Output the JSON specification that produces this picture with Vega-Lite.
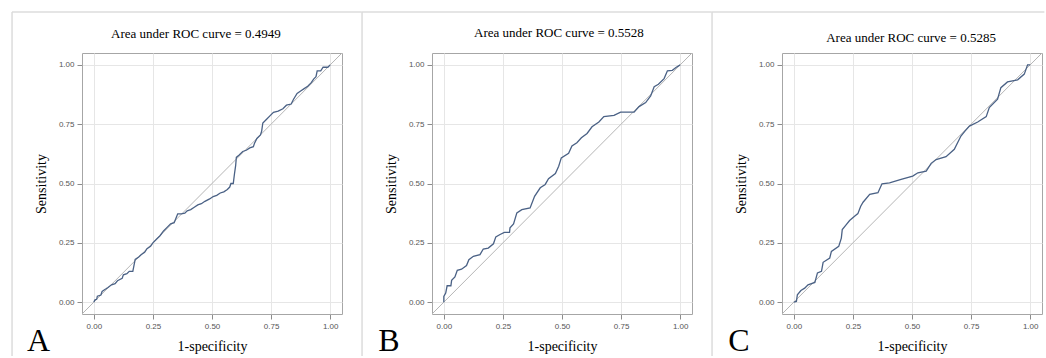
{
  "$schema": "https://vega.github.io/schema/vega-lite/v6.json",
  "background": "white",
  "padding": {"left": 10, "top": 10, "right": 0, "bottom": 0},
  "spacing": 90,
  "bounds": "flush",
  "config": {
    "view": {"stroke": "#a6a6a6", "strokeWidth": 1},
    "axis": {
      "domain": false,
      "grid": true,
      "gridColor": "#e6e6e6",
      "gridWidth": 1,
      "tickColor": "#8c8c8c",
      "tickSize": 5,
      "labelFont": "Liberation Sans",
      "labelFontSize": 8,
      "labelColor": "#555555",
      "labelPadding": 3,
      "titleFont": "Liberation Serif",
      "titleFontSize": 14,
      "titleFontWeight": "normal",
      "titleColor": "#000000",
      "format": ".2f"
    },
    "axisX": {"titlePadding": 9},
    "axisY": {"titlePadding": 10},
    "text": {"font": "Liberation Serif", "color": "#000000"}
  },
  "datasets": {
    "rocA": [
      {"fpr": 0, "tpr": 0}, {"fpr": 0.005, "tpr": 0.01}, {"fpr": 0.012, "tpr": 0.012}, {"fpr": 0.015, "tpr": 0.025},
      {"fpr": 0.03, "tpr": 0.03}, {"fpr": 0.035, "tpr": 0.045}, {"fpr": 0.05, "tpr": 0.055}, {"fpr": 0.06, "tpr": 0.062},
      {"fpr": 0.075, "tpr": 0.073}, {"fpr": 0.09, "tpr": 0.078}, {"fpr": 0.1, "tpr": 0.09}, {"fpr": 0.12, "tpr": 0.1},
      {"fpr": 0.125, "tpr": 0.115}, {"fpr": 0.14, "tpr": 0.12}, {"fpr": 0.15, "tpr": 0.13}, {"fpr": 0.165, "tpr": 0.13},
      {"fpr": 0.17, "tpr": 0.155}, {"fpr": 0.175, "tpr": 0.18}, {"fpr": 0.19, "tpr": 0.19}, {"fpr": 0.2, "tpr": 0.2},
      {"fpr": 0.215, "tpr": 0.21}, {"fpr": 0.225, "tpr": 0.225}, {"fpr": 0.24, "tpr": 0.235}, {"fpr": 0.25, "tpr": 0.25},
      {"fpr": 0.265, "tpr": 0.265}, {"fpr": 0.28, "tpr": 0.28}, {"fpr": 0.295, "tpr": 0.3}, {"fpr": 0.31, "tpr": 0.315},
      {"fpr": 0.325, "tpr": 0.33}, {"fpr": 0.34, "tpr": 0.335}, {"fpr": 0.35, "tpr": 0.36}, {"fpr": 0.355, "tpr": 0.372},
      {"fpr": 0.37, "tpr": 0.372}, {"fpr": 0.385, "tpr": 0.375}, {"fpr": 0.395, "tpr": 0.385}, {"fpr": 0.41, "tpr": 0.39},
      {"fpr": 0.425, "tpr": 0.4}, {"fpr": 0.44, "tpr": 0.41}, {"fpr": 0.455, "tpr": 0.415}, {"fpr": 0.47, "tpr": 0.425},
      {"fpr": 0.49, "tpr": 0.435}, {"fpr": 0.505, "tpr": 0.445}, {"fpr": 0.52, "tpr": 0.45}, {"fpr": 0.535, "tpr": 0.46},
      {"fpr": 0.55, "tpr": 0.465}, {"fpr": 0.565, "tpr": 0.475}, {"fpr": 0.575, "tpr": 0.485}, {"fpr": 0.58, "tpr": 0.5},
      {"fpr": 0.59, "tpr": 0.5}, {"fpr": 0.595, "tpr": 0.54}, {"fpr": 0.6, "tpr": 0.575}, {"fpr": 0.603, "tpr": 0.61},
      {"fpr": 0.615, "tpr": 0.62}, {"fpr": 0.63, "tpr": 0.635}, {"fpr": 0.645, "tpr": 0.64}, {"fpr": 0.66, "tpr": 0.65},
      {"fpr": 0.675, "tpr": 0.655}, {"fpr": 0.68, "tpr": 0.67}, {"fpr": 0.69, "tpr": 0.69}, {"fpr": 0.705, "tpr": 0.705},
      {"fpr": 0.71, "tpr": 0.72}, {"fpr": 0.715, "tpr": 0.755}, {"fpr": 0.73, "tpr": 0.77}, {"fpr": 0.745, "tpr": 0.785},
      {"fpr": 0.76, "tpr": 0.8}, {"fpr": 0.78, "tpr": 0.805}, {"fpr": 0.8, "tpr": 0.815}, {"fpr": 0.815, "tpr": 0.83},
      {"fpr": 0.835, "tpr": 0.835}, {"fpr": 0.845, "tpr": 0.855}, {"fpr": 0.86, "tpr": 0.88}, {"fpr": 0.875, "tpr": 0.89},
      {"fpr": 0.89, "tpr": 0.9}, {"fpr": 0.905, "tpr": 0.91}, {"fpr": 0.92, "tpr": 0.925}, {"fpr": 0.93, "tpr": 0.94},
      {"fpr": 0.94, "tpr": 0.95}, {"fpr": 0.945, "tpr": 0.975}, {"fpr": 0.96, "tpr": 0.975}, {"fpr": 0.97, "tpr": 0.99},
      {"fpr": 0.99, "tpr": 0.99}, {"fpr": 1, "tpr": 1}
    ],
    "rocB": [
      {"fpr": 0, "tpr": 0}, {"fpr": 0, "tpr": 0.024}, {"fpr": 0.008, "tpr": 0.038}, {"fpr": 0.014, "tpr": 0.069},
      {"fpr": 0.03, "tpr": 0.069}, {"fpr": 0.033, "tpr": 0.092}, {"fpr": 0.047, "tpr": 0.106}, {"fpr": 0.057, "tpr": 0.134},
      {"fpr": 0.075, "tpr": 0.139}, {"fpr": 0.096, "tpr": 0.154}, {"fpr": 0.106, "tpr": 0.179}, {"fpr": 0.125, "tpr": 0.193},
      {"fpr": 0.153, "tpr": 0.2}, {"fpr": 0.167, "tpr": 0.224}, {"fpr": 0.188, "tpr": 0.228}, {"fpr": 0.21, "tpr": 0.246},
      {"fpr": 0.22, "tpr": 0.275}, {"fpr": 0.238, "tpr": 0.285}, {"fpr": 0.256, "tpr": 0.294}, {"fpr": 0.278, "tpr": 0.294},
      {"fpr": 0.28, "tpr": 0.313}, {"fpr": 0.295, "tpr": 0.33}, {"fpr": 0.309, "tpr": 0.376}, {"fpr": 0.33, "tpr": 0.39},
      {"fpr": 0.365, "tpr": 0.397}, {"fpr": 0.384, "tpr": 0.446}, {"fpr": 0.408, "tpr": 0.482}, {"fpr": 0.429, "tpr": 0.496},
      {"fpr": 0.443, "tpr": 0.52}, {"fpr": 0.472, "tpr": 0.542}, {"fpr": 0.486, "tpr": 0.573}, {"fpr": 0.497, "tpr": 0.608},
      {"fpr": 0.528, "tpr": 0.627}, {"fpr": 0.542, "tpr": 0.658}, {"fpr": 0.563, "tpr": 0.672}, {"fpr": 0.582, "tpr": 0.693},
      {"fpr": 0.606, "tpr": 0.711}, {"fpr": 0.627, "tpr": 0.739}, {"fpr": 0.656, "tpr": 0.759}, {"fpr": 0.677, "tpr": 0.782},
      {"fpr": 0.72, "tpr": 0.787}, {"fpr": 0.748, "tpr": 0.801}, {"fpr": 0.805, "tpr": 0.801}, {"fpr": 0.826, "tpr": 0.824},
      {"fpr": 0.854, "tpr": 0.841}, {"fpr": 0.875, "tpr": 0.869}, {"fpr": 0.89, "tpr": 0.908}, {"fpr": 0.908, "tpr": 0.918},
      {"fpr": 0.932, "tpr": 0.942}, {"fpr": 0.946, "tpr": 0.975}, {"fpr": 0.967, "tpr": 0.977}, {"fpr": 0.982, "tpr": 0.989},
      {"fpr": 1, "tpr": 1}
    ],
    "rocC": [
      {"fpr": 0, "tpr": 0}, {"fpr": 0.011, "tpr": 0.003}, {"fpr": 0.015, "tpr": 0.031}, {"fpr": 0.03, "tpr": 0.049},
      {"fpr": 0.046, "tpr": 0.059}, {"fpr": 0.06, "tpr": 0.073}, {"fpr": 0.089, "tpr": 0.083}, {"fpr": 0.1, "tpr": 0.123},
      {"fpr": 0.117, "tpr": 0.13}, {"fpr": 0.124, "tpr": 0.168}, {"fpr": 0.152, "tpr": 0.186}, {"fpr": 0.159, "tpr": 0.214},
      {"fpr": 0.19, "tpr": 0.235}, {"fpr": 0.201, "tpr": 0.27}, {"fpr": 0.205, "tpr": 0.306}, {"fpr": 0.222, "tpr": 0.327},
      {"fpr": 0.236, "tpr": 0.344}, {"fpr": 0.257, "tpr": 0.362}, {"fpr": 0.271, "tpr": 0.373}, {"fpr": 0.283, "tpr": 0.404},
      {"fpr": 0.293, "tpr": 0.421}, {"fpr": 0.321, "tpr": 0.454}, {"fpr": 0.356, "tpr": 0.461}, {"fpr": 0.373, "tpr": 0.499},
      {"fpr": 0.405, "tpr": 0.503}, {"fpr": 0.454, "tpr": 0.517}, {"fpr": 0.503, "tpr": 0.531}, {"fpr": 0.525, "tpr": 0.545},
      {"fpr": 0.56, "tpr": 0.552}, {"fpr": 0.581, "tpr": 0.585}, {"fpr": 0.602, "tpr": 0.601}, {"fpr": 0.644, "tpr": 0.613},
      {"fpr": 0.679, "tpr": 0.644}, {"fpr": 0.707, "tpr": 0.7}, {"fpr": 0.724, "tpr": 0.721}, {"fpr": 0.743, "tpr": 0.742},
      {"fpr": 0.778, "tpr": 0.759}, {"fpr": 0.814, "tpr": 0.782}, {"fpr": 0.827, "tpr": 0.82}, {"fpr": 0.862, "tpr": 0.855},
      {"fpr": 0.876, "tpr": 0.904}, {"fpr": 0.904, "tpr": 0.928}, {"fpr": 0.947, "tpr": 0.937}, {"fpr": 0.975, "tpr": 0.961},
      {"fpr": 0.989, "tpr": 1}, {"fpr": 1, "tpr": 1}
    ]
  },
  "hconcat": [
    {
      "width": 260, "height": 261,
      "layer": [
        {"data": {"values": [{}]}, "mark": {"type": "rule", "color": "#b5b5b5", "strokeWidth": 1},
         "encoding": {"x": {"datum": -0.05, "type": "quantitative", "scale": {"domain": [-0.05, 1.05], "nice": false, "zero": false}, "axis": {"title": "1-specificity", "values": [0, 0.25, 0.5, 0.75, 1]}},
                      "x2": {"datum": 1.05},
                      "y": {"datum": -0.05, "type": "quantitative", "scale": {"domain": [-0.05, 1.05], "nice": false, "zero": false}, "axis": {"title": "Sensitivity", "values": [0, 0.25, 0.5, 0.75, 1]}},
                      "y2": {"datum": 1.05}}},
        {"data": {"name": "rocA"}, "mark": {"type": "line", "color": "#4a6185", "strokeWidth": 1.3},
         "encoding": {"x": {"field": "fpr", "type": "quantitative", "scale": {"domain": [-0.05, 1.05], "nice": false, "zero": false}, "axis": {"title": "1-specificity", "values": [0, 0.25, 0.5, 0.75, 1]}},
                      "y": {"field": "tpr", "type": "quantitative", "scale": {"domain": [-0.05, 1.05], "nice": false, "zero": false}, "axis": {"title": "Sensitivity", "values": [0, 0.25, 0.5, 0.75, 1]}}}},
        {"data": {"values": [{}]}, "mark": {"type": "rule", "color": "#dcdcdc", "strokeWidth": 1.5},
         "encoding": {"x": {"datum": -0.346, "type": "quantitative", "axis": {"title": "1-specificity", "values": [0, 0.25, 0.5, 0.75, 1]}}, "y": {"datum": -0.227, "type": "quantitative", "axis": {"title": "Sensitivity", "values": [0, 0.25, 0.5, 0.75, 1]}}, "y2": {"datum": 1.223}}},
        {"data": {"values": [{}]}, "mark": {"type": "rule", "color": "#dcdcdc", "strokeWidth": 1.5},
         "encoding": {"x": {"datum": -0.346, "type": "quantitative", "axis": {"title": "1-specificity", "values": [0, 0.25, 0.5, 0.75, 1]}}, "x2": {"datum": 1.134}, "y": {"datum": 1.223, "type": "quantitative", "axis": {"title": "Sensitivity", "values": [0, 0.25, 0.5, 0.75, 1]}}}},
        {"data": {"values": [{"t": "Area under ROC curve = 0.4949"}]}, "mark": {"type": "text", "fontSize": 13, "baseline": "alphabetic", "align": "center"},
         "encoding": {"text": {"field": "t"}, "x": {"datum": 0.432, "type": "quantitative", "axis": {"title": "1-specificity", "values": [0, 0.25, 0.5, 0.75, 1]}}, "y": {"datum": 1.113, "type": "quantitative", "axis": {"title": "Sensitivity", "values": [0, 0.25, 0.5, 0.75, 1]}}}},
        {"data": {"values": [{"panel": "A"}]}, "mark": {"type": "text", "fontSize": 32, "baseline": "alphabetic", "align": "center"},
         "encoding": {"text": {"field": "panel"}, "x": {"datum": -0.234, "type": "quantitative", "axis": {"title": "1-specificity", "values": [0, 0.25, 0.5, 0.75, 1]}}, "y": {"datum": -0.205, "type": "quantitative", "axis": {"title": "Sensitivity", "values": [0, 0.25, 0.5, 0.75, 1]}}}}
      ]
    },
    {
      "width": 260, "height": 261,
      "layer": [
        {"data": {"values": [{}]}, "mark": {"type": "rule", "color": "#b5b5b5", "strokeWidth": 1},
         "encoding": {"x": {"datum": -0.05, "type": "quantitative", "scale": {"domain": [-0.05, 1.05], "nice": false, "zero": false}, "axis": {"title": "1-specificity", "values": [0, 0.25, 0.5, 0.75, 1]}},
                      "x2": {"datum": 1.05},
                      "y": {"datum": -0.05, "type": "quantitative", "scale": {"domain": [-0.05, 1.05], "nice": false, "zero": false}, "axis": {"title": "Sensitivity", "values": [0, 0.25, 0.5, 0.75, 1]}},
                      "y2": {"datum": 1.05}}},
        {"data": {"name": "rocB"}, "mark": {"type": "line", "color": "#4a6185", "strokeWidth": 1.3},
         "encoding": {"x": {"field": "fpr", "type": "quantitative", "scale": {"domain": [-0.05, 1.05], "nice": false, "zero": false}, "axis": {"title": "1-specificity", "values": [0, 0.25, 0.5, 0.75, 1]}},
                      "y": {"field": "tpr", "type": "quantitative", "scale": {"domain": [-0.05, 1.05], "nice": false, "zero": false}, "axis": {"title": "Sensitivity", "values": [0, 0.25, 0.5, 0.75, 1]}}}},
        {"data": {"values": [{}]}, "mark": {"type": "rule", "color": "#dcdcdc", "strokeWidth": 1.5},
         "encoding": {"x": {"datum": -0.346, "type": "quantitative", "axis": {"title": "1-specificity", "values": [0, 0.25, 0.5, 0.75, 1]}}, "y": {"datum": -0.227, "type": "quantitative", "axis": {"title": "Sensitivity", "values": [0, 0.25, 0.5, 0.75, 1]}}, "y2": {"datum": 1.223}}},
        {"data": {"values": [{}]}, "mark": {"type": "rule", "color": "#dcdcdc", "strokeWidth": 1.5},
         "encoding": {"x": {"datum": -0.346, "type": "quantitative", "axis": {"title": "1-specificity", "values": [0, 0.25, 0.5, 0.75, 1]}}, "x2": {"datum": 1.134}, "y": {"datum": 1.223, "type": "quantitative", "axis": {"title": "Sensitivity", "values": [0, 0.25, 0.5, 0.75, 1]}}}},
        {"data": {"values": [{"t": "Area under ROC  curve = 0.5528"}]}, "mark": {"type": "text", "fontSize": 13, "baseline": "alphabetic", "align": "center"},
         "encoding": {"text": {"field": "t"}, "x": {"datum": 0.487, "type": "quantitative", "axis": {"title": "1-specificity", "values": [0, 0.25, 0.5, 0.75, 1]}}, "y": {"datum": 1.117, "type": "quantitative", "axis": {"title": "Sensitivity", "values": [0, 0.25, 0.5, 0.75, 1]}}}},
        {"data": {"values": [{"panel": "B"}]}, "mark": {"type": "text", "fontSize": 32, "baseline": "alphabetic", "align": "center"},
         "encoding": {"text": {"field": "panel"}, "x": {"datum": -0.232, "type": "quantitative", "axis": {"title": "1-specificity", "values": [0, 0.25, 0.5, 0.75, 1]}}, "y": {"datum": -0.205, "type": "quantitative", "axis": {"title": "Sensitivity", "values": [0, 0.25, 0.5, 0.75, 1]}}}}
      ]
    },
    {
      "width": 260, "height": 261,
      "layer": [
        {"data": {"values": [{}]}, "mark": {"type": "rule", "color": "#b5b5b5", "strokeWidth": 1},
         "encoding": {"x": {"datum": -0.05, "type": "quantitative", "scale": {"domain": [-0.05, 1.05], "nice": false, "zero": false}, "axis": {"title": "1-specificity", "values": [0, 0.25, 0.5, 0.75, 1]}},
                      "x2": {"datum": 1.05},
                      "y": {"datum": -0.05, "type": "quantitative", "scale": {"domain": [-0.05, 1.05], "nice": false, "zero": false}, "axis": {"title": "Sensitivity", "values": [0, 0.25, 0.5, 0.75, 1]}},
                      "y2": {"datum": 1.05}}},
        {"data": {"name": "rocC"}, "mark": {"type": "line", "color": "#4a6185", "strokeWidth": 1.3},
         "encoding": {"x": {"field": "fpr", "type": "quantitative", "scale": {"domain": [-0.05, 1.05], "nice": false, "zero": false}, "axis": {"title": "1-specificity", "values": [0, 0.25, 0.5, 0.75, 1]}},
                      "y": {"field": "tpr", "type": "quantitative", "scale": {"domain": [-0.05, 1.05], "nice": false, "zero": false}, "axis": {"title": "Sensitivity", "values": [0, 0.25, 0.5, 0.75, 1]}}}},
        {"data": {"values": [{}]}, "mark": {"type": "rule", "color": "#dcdcdc", "strokeWidth": 1.5},
         "encoding": {"x": {"datum": -0.346, "type": "quantitative", "axis": {"title": "1-specificity", "values": [0, 0.25, 0.5, 0.75, 1]}}, "y": {"datum": -0.227, "type": "quantitative", "axis": {"title": "Sensitivity", "values": [0, 0.25, 0.5, 0.75, 1]}}, "y2": {"datum": 1.223}}},
        {"data": {"values": [{}]}, "mark": {"type": "rule", "color": "#dcdcdc", "strokeWidth": 1.5},
         "encoding": {"x": {"datum": -0.346, "type": "quantitative", "axis": {"title": "1-specificity", "values": [0, 0.25, 0.5, 0.75, 1]}}, "x2": {"datum": 1.06}, "y": {"datum": 1.223, "type": "quantitative", "axis": {"title": "Sensitivity", "values": [0, 0.25, 0.5, 0.75, 1]}}}},
        {"data": {"values": [{"t": "Area under ROC curve = 0.5285"}]}, "mark": {"type": "text", "fontSize": 13, "baseline": "alphabetic", "align": "center"},
         "encoding": {"text": {"field": "t"}, "x": {"datum": 0.496, "type": "quantitative", "axis": {"title": "1-specificity", "values": [0, 0.25, 0.5, 0.75, 1]}}, "y": {"datum": 1.096, "type": "quantitative", "axis": {"title": "Sensitivity", "values": [0, 0.25, 0.5, 0.75, 1]}}}},
        {"data": {"values": [{"panel": "C"}]}, "mark": {"type": "text", "fontSize": 32, "baseline": "alphabetic", "align": "center"},
         "encoding": {"text": {"field": "panel"}, "x": {"datum": -0.232, "type": "quantitative", "axis": {"title": "1-specificity", "values": [0, 0.25, 0.5, 0.75, 1]}}, "y": {"datum": -0.205, "type": "quantitative", "axis": {"title": "Sensitivity", "values": [0, 0.25, 0.5, 0.75, 1]}}}}
      ]
    }
  ]
}
